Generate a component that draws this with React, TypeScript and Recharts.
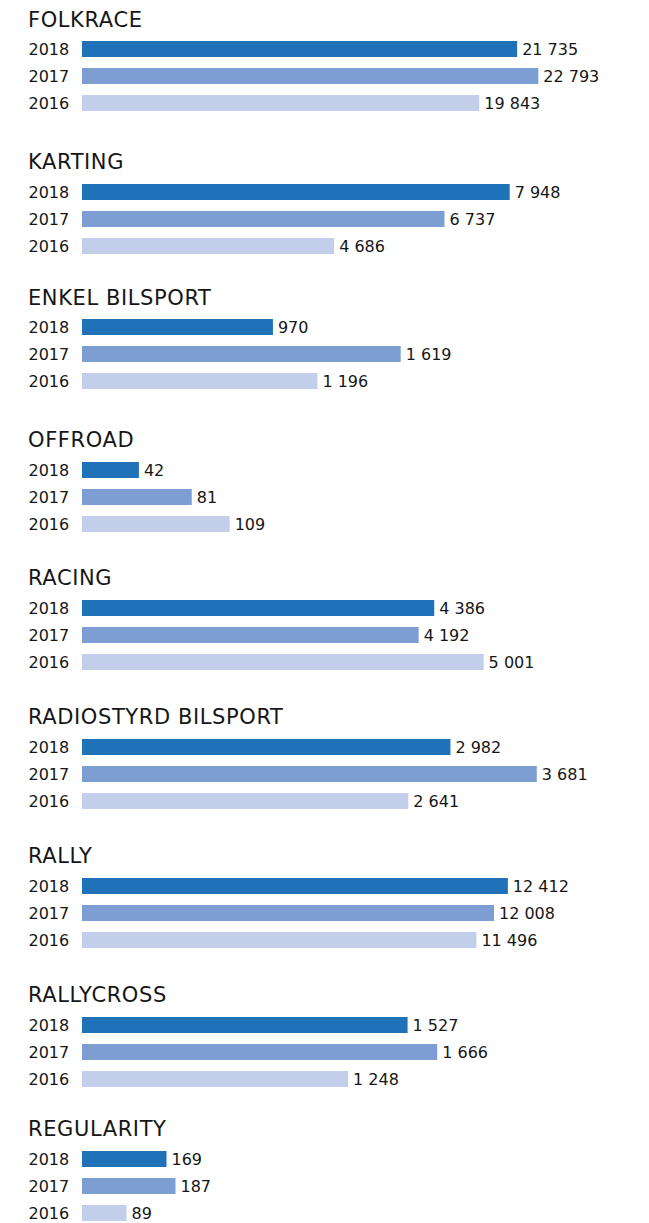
import { BarChart, Bar, XAxis, YAxis, Cell, LabelList } from "recharts"

const categories = [
  "FOLKRACE",
  "KARTING",
  "ENKEL BILSPORT",
  "OFFROAD",
  "RACING",
  "RADIOSTYRD BILSPORT",
  "RALLY",
  "RALLYCROSS",
  "REGULARITY",
]
const years = ["2018", "2017", "2016"]
const values2018 = [21735, 7948, 970, 42, 4386, 2982, 12412, 1527, 169]
const values2017 = [22793, 6737, 1619, 81, 4192, 3681, 12008, 1666, 187]
const values2016 = [19843, 4686, 1196, 109, 5001, 2641, 11496, 1248, 89]

// layout: centre of first bar for each panel, and per-panel axis maximum
const firstBarCenter = [48.8, 191.2, 326.8, 469, 607.2, 746.2, 885.2, 1024, 1158]
const axisMax = [24975, 9292, 2540, 369, 6226, 4047, 14573, 2345, 1000]

const yearColors = ["#1f71b8", "#7c9ed3", "#c3ceeb"]
const FONT = "'DejaVu Sans', Verdana, sans-serif"
const TEXT = "#161616"
const ROW = 27

const fmt = (v: any) => String(v).replace(/\B(?=(\d{3})+(?!\d))/g, " ")

function YearTick(props: any) {
  const { y, payload } = props
  return (
    <text x={28.5} y={y} dy={6} fontSize={16} fill={TEXT} fontFamily={FONT}>
      {payload.value}
    </text>
  )
}

function Panel({ index }: { index: number }) {
  const series = [values2018, values2017, values2016]
  const data = years.map((year, j) => ({ year, value: series[j][index] }))
  const center = firstBarCenter[index]

  return (
    <>
      <div
        style={{
          position: "absolute",
          left: 28,
          top: center - 21 - 17.8,
          fontSize: 21,
          lineHeight: "21px",
          letterSpacing: "0.6px",
          fontFamily: FONT,
          color: TEXT,
          whiteSpace: "nowrap",
        }}
      >
        {categories[index]}
      </div>
      <div style={{ position: "absolute", left: 0, top: center - ROW / 2 }}>
        <BarChart
          width={649}
          height={ROW * 3}
          data={data}
          layout="vertical"
          margin={{ top: 0, right: 67, bottom: 0, left: 0 }}
          barCategoryGap={0}
        >
          <XAxis type="number" hide domain={[0, axisMax[index]]} allowDataOverflow />
          <YAxis
            type="category"
            dataKey="year"
            width={82}
            axisLine={false}
            tickLine={false}
            interval={0}
            tick={(p: any) => <YearTick {...p} />}
          />
          <Bar dataKey="value" barSize={16} isAnimationActive={false}>
            {data.map((d, j) => (
              <Cell key={d.year} fill={yearColors[j]} />
            ))}
            <LabelList
              dataKey="value"
              position="right"
              offset={5}
              formatter={fmt}
              fill={TEXT}
              fontSize={16}
              fontFamily={FONT}
            />
          </Bar>
        </BarChart>
      </div>
    </>
  )
}

export default function App() {
  return (
    <div
      style={{
        position: "absolute",
        left: 0,
        top: 0,
        width: 649,
        height: 1223,
        background: "#fff",
        overflow: "hidden",
      }}
    >
      {categories.map((c, i) => (
        <Panel key={c} index={i} />
      ))}
    </div>
  )
}
